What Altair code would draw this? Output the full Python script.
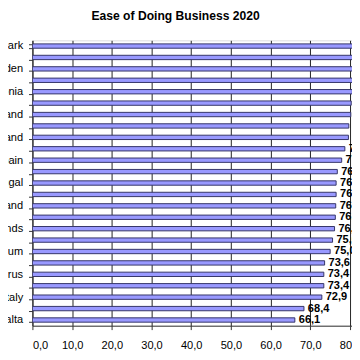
import altair as alt
import pandas as pd

countries = ["Denmark", "United Kingdom", "Sweden", "Lithuania", "Estonia", "Latvia",
             "Finland", "Germany", "Ireland", "Austria", "Spain", "France", "Portugal",
             "Slovenia", "Poland", "Czech Republic", "Netherlands", "Slovakia", "Belgium",
             "Croatia", "Cyprus", "Hungary", "Italy", "Greece", "Malta"]
scores = [85.3, 83.5, 82.0, 81.6, 80.6, 80.3, 80.2, 79.7, 79.6, 78.7, 77.9, 76.8, 76.5,
          76.5, 76.4, 76.3, 76.1, 75.6, 75.0, 73.6, 73.4, 73.4, 72.9, 68.4, 66.1]
x_ticks = [0, 10, 20, 30, 40, 50, 60, 70, 80]
shown_labels = countries[::2]

df = pd.DataFrame({"country": countries, "score": scores})

label_list = "[" + ",".join("'" + c + "'" for c in shown_labels) + "]"

y = alt.Y("country:N", sort=countries, title=None,
          scale=alt.Scale(paddingInner=0.62, paddingOuter=0.31),
          axis=alt.Axis(labelExpr=f"indexof({label_list}, datum.value) >= 0 ? datum.label : ''",
                        tickBand="extent", tickSize=4, labelPadding=6, labelFontSize=11.3,
                        labelColor="black", domainColor="#333333", tickColor="#333333",
                        labelFont="Liberation Sans"))
x = alt.X("score:Q", title=None,
          scale=alt.Scale(domain=[0, 80.5], nice=False, zero=True),
          axis=alt.Axis(values=x_ticks, labelExpr="replace(format(datum.value, '.1f'), '.', ',')",
                        grid=True, gridColor="#222222", gridWidth=1, tickSize=4,
                        labelPadding=10, labelFontSize=11.3, labelColor="black",
                        domainColor="#333333", tickColor="#333333", labelFont="Liberation Sans"))

bars = alt.Chart(df).mark_bar(color="#9999FF", stroke="#333366", strokeWidth=1, clip=True).encode(
    x=x, y=y)

text = alt.Chart(df).transform_calculate(
    lbl="replace(format(datum.score, '.1f'), '.', ',')"
).mark_text(align="left", baseline="middle", dx=4, fontSize=11.3, fontWeight="bold",
            font="Liberation Sans", color="black").encode(
    x=alt.X("score:Q"), y=alt.Y("country:N", sort=countries), text="lbl:N")

chart = alt.layer(bars, text).properties(
    width=327, height=292,
    autosize=alt.AutoSizeParams(type="none"),
    padding={"left": 25, "top": 29, "right": 0, "bottom": 31},
    title=alt.TitleParams("Ease of Doing Business 2020", fontSize=12.4, fontWeight="bold",
                          font="Liberation Sans", color="black", dx=-17, offset=12),
).configure_view(fill="#C0C0C0", stroke="#808080", strokeWidth=1
).configure(background="white")

chart.save("out.html", embed_options={"renderer": "svg", "actions": False})
